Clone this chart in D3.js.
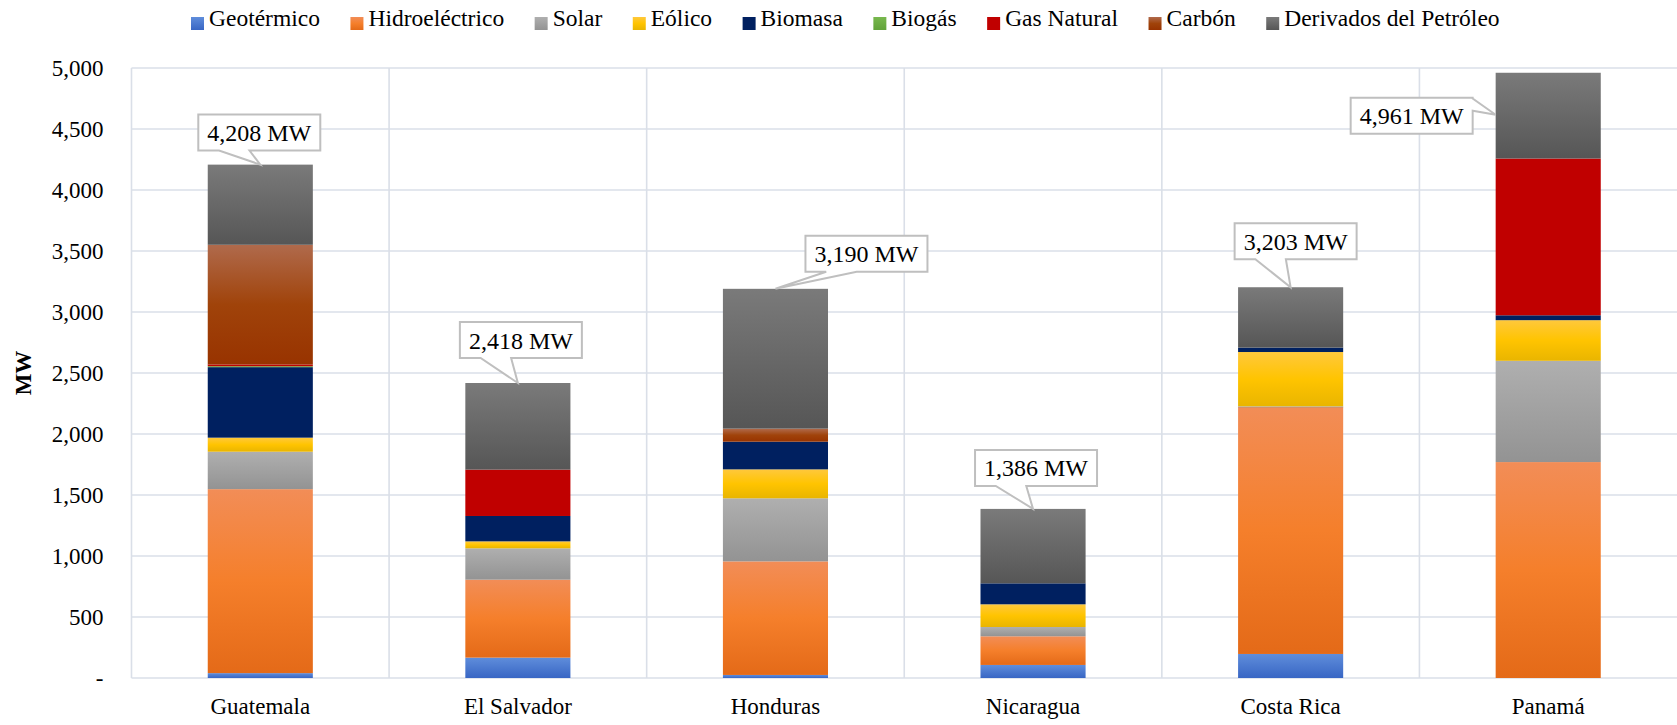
<!DOCTYPE html>
<html><head><meta charset="utf-8">
<script src="https://cdn.jsdelivr.net/npm/d3@7"></script>
<style>
body{margin:0;background:#fff;}
svg{display:block;}
svg text{font-family:"Liberation Serif","Times New Roman",Times,"DejaVu Serif",serif !important;}
</style>
</head><body>
<svg id="chart" width="1677" height="725"></svg>
<script>
// ---------- DATA ----------
const countries = ["Guatemala","El Salvador","Honduras","Nicaragua","Costa Rica","Panamá"];
const seriesNames = ["Geotérmico","Hidroeléctrico","Solar","Eólico","Biomasa","Biogás","Gas Natural","Carbón","Derivados del Petróleo"];
const geotermico     = [40, 167, 25, 107, 197, 0];
const hidroelectrico = [1508, 639, 931, 235, 2025, 1770];
const solar          = [307, 257, 517, 76, 5, 830];
const eolico         = [115, 57, 237, 186, 445, 333];
const biomasa        = [578, 208, 227, 172, 36, 40];
const biogas         = [8, 0, 0, 0, 0, 0];
const gasNatural     = [14, 380, 0, 0, 0, 1285];
const carbon         = [981, 0, 107, 0, 0, 0];
const derivados      = [657, 710, 1146, 610, 495, 703];
const totals         = [4208, 2418, 3190, 1386, 3203, 4961];
const totalLabels    = ["4,208 MW","2,418 MW","3,190 MW","1,386 MW","3,203 MW","4,961 MW"];
const yTickValues    = [0,500,1000,1500,2000,2500,3000,3500,4000,4500,5000];
const yTickLabels    = ["-","500","1,000","1,500","2,000","2,500","3,000","3,500","4,000","4,500","5,000"];
const yTitle = "MW";

// ---------- STYLE / LAYOUT ----------
const FONT = '"Liberation Serif","Times New Roman",Times,"DejaVu Serif",serif';
const seriesArrays = [geotermico,hidroelectrico,solar,eolico,biomasa,biogas,gasNatural,carbon,derivados];
const gradStops = [
  [["0%","#5f8ddb"],["100%","#3866c4"]],
  [["0%","#f28d57"],["50%","#f57f2b"],["100%","#e46a18"]],
  [["0%","#afafaf"],["100%","#939393"]],
  [["0%","#ffc83c"],["50%","#ffc400"],["100%","#e9b500"]],
  [["0%","#002060"],["100%","#002060"]],
  [["0%","#78b84e"],["100%","#62a33a"]],
  [["0%","#c00000"],["100%","#c00000"]],
  [["0%","#b06a4c"],["50%","#a0430a"],["100%","#983300"]],
  [["0%","#7a7a7a"],["100%","#565656"]]
];

const plot = {left:131.5, right:1677, top:68, bottom:678};
const gridColor = "#dadfe8";

const svg = d3.select("#chart").attr("font-family",FONT);
const defs = svg.append("defs");
gradStops.forEach((stops,i)=>{
  const g = defs.append("linearGradient").attr("id","g"+i)
    .attr("x1",0).attr("y1",0).attr("x2",0).attr("y2",1);
  stops.forEach(s=>g.append("stop").attr("offset",s[0]).attr("stop-color",s[1]));
});

const x = d3.scaleBand().domain(countries).range([plot.left, plot.right])
  .paddingInner(0.592).paddingOuter(0.296);
const y = d3.scaleLinear().domain([0,5000]).range([plot.bottom, plot.top]);
const step = x.step(), bw = x.bandwidth();

// gridlines
const grid = svg.append("g");
grid.selectAll("line.h").data(yTickValues).join("line")
  .attr("x1",plot.left).attr("x2",plot.right)
  .attr("y1",d=>y(d)).attr("y2",d=>y(d))
  .attr("stroke",gridColor).attr("stroke-width",1.6);
const vb = countries.map(c=>x(c)-(step-bw)/2);
grid.selectAll("line.v").data(vb).join("line")
  .attr("x1",d=>d).attr("x2",d=>d)
  .attr("y1",plot.top).attr("y2",plot.bottom)
  .attr("stroke",gridColor).attr("stroke-width",1.6);

// y axis labels
const yAxis = d3.axisLeft(y).tickValues(yTickValues)
  .tickFormat((d,i)=>yTickLabels[i]).tickSize(0).tickPadding(28);
const ya = svg.append("g").attr("transform",`translate(${plot.left},0)`).call(yAxis)
  .attr("font-family",FONT).attr("font-size",23);
ya.select(".domain").remove();
ya.selectAll("text").style("font-family",FONT).attr("fill","#000");

// x axis labels
const xAxis = d3.axisBottom(x).tickSize(0).tickPadding(20);
const xa = svg.append("g").attr("transform",`translate(0,${plot.bottom})`).call(xAxis)
  .attr("font-family",FONT).attr("font-size",23);
xa.select(".domain").remove();
xa.selectAll("text").style("font-family",FONT).attr("fill","#000");

// y title
svg.append("text").attr("transform",`translate(31,373) rotate(-90)`)
  .attr("text-anchor","middle").attr("font-size",23).attr("font-weight","bold")
  .style("font-family",FONT).text(yTitle);

// stacked bars
const table = countries.map((c,i)=>{
  const row = {country:c};
  seriesNames.forEach((s,k)=>row[s]=seriesArrays[k][i]);
  return row;
});
const stacked = d3.stack().keys(seriesNames)(table);
svg.append("g").selectAll("g").data(stacked).join("g")
  .attr("fill",(d,i)=>`url(#g${i})`)
  .selectAll("rect").data(d=>d.filter(p=>p[1]-p[0]>0)).join("rect")
  .attr("x",d=>x(d.data.country)).attr("width",bw)
  .attr("y",d=>y(d[1])).attr("height",d=>Math.max(1,y(d[0])-y(d[1])));

// callouts (box offset relative to the pointer tip)
const boxW = 122, boxH = 36;
const calloutLayout = [
  {dx:-62, dy:-50, side:"bottom"},
  {dx:-58, dy:-61, side:"bottom"},
  {dx:30,  dy:-53, side:"bottom"},
  {dx:-58, dy:-59, side:"bottom"},
  {dx:-56, dy:-64, side:"bottom"},
  {dx:-145, dy:-17, side:"right", tipDy:42}
];
const cg = svg.append("g");
countries.forEach((c,i)=>{
  const L = calloutLayout[i];
  let tx, ty;
  if (L.side==="bottom"){ tx = x(c)+bw/2; ty = y(totals[i]); }
  else { tx = x(c); ty = y(totals[i]) + L.tipDy; }
  const bx = tx + L.dx, by = ty + L.dy;
  let p;
  if (L.side==="bottom"){
    const b1 = bx + 0.17*boxW, b2 = bx + 0.42*boxW;
    p = `M${bx},${by} H${bx+boxW} V${by+boxH} H${b2} L${tx},${ty} L${b1},${by+boxH} H${bx} Z`;
  } else {
    const r1 = by + 0.02*boxH, r2 = by + 0.36*boxH;
    p = `M${bx},${by} H${bx+boxW} V${r1} L${tx},${ty} L${bx+boxW},${r2} V${by+boxH} H${bx} Z`;
  }
  cg.append("path").attr("d",p).attr("fill","#fff").attr("stroke","#bfbfbf").attr("stroke-width",2);
  cg.append("text").attr("x",bx+boxW/2).attr("y",by+boxH/2+8.5)
    .attr("text-anchor","middle").attr("font-size",24).attr("fill","#000")
    .style("font-family",FONT).text(totalLabels[i]);
});

// legend
const lg = svg.append("g");
let lx = 191;
seriesNames.forEach((s,i)=>{
  lg.append("rect").attr("x",lx).attr("y",17).attr("width",13).attr("height",13)
    .attr("fill",`url(#g${i})`);
  const t = lg.append("text").attr("x",lx+18).attr("y",26).attr("font-size",23.5).attr("fill","#000")
    .style("font-family",FONT).text(s);
  lx += 18 + t.node().getComputedTextLength() + 30.5;
});
</script>
</body></html>
